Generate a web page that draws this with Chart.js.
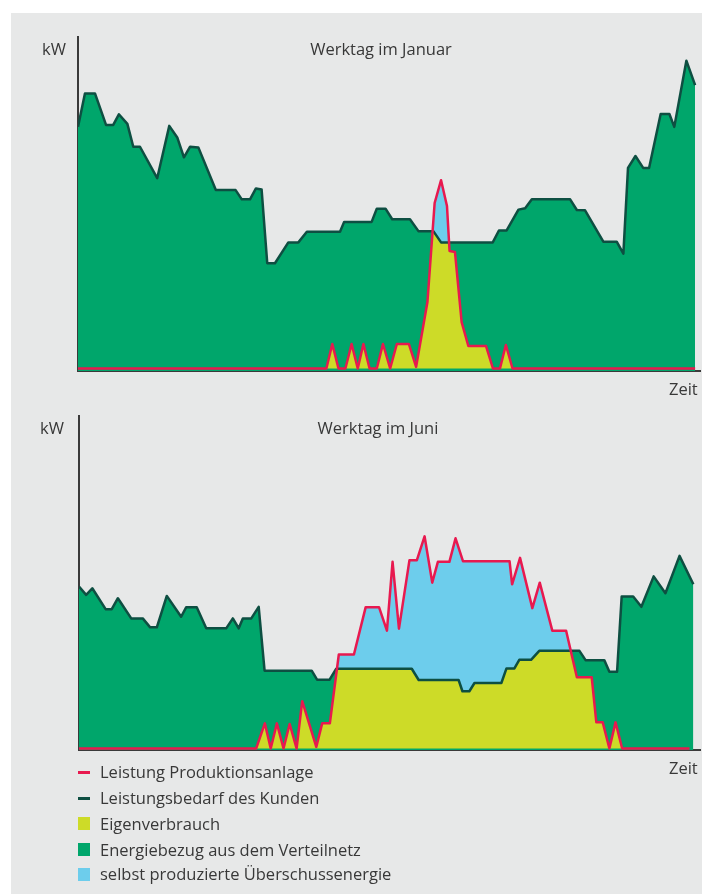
<!DOCTYPE html>
<html>
<head>
<meta charset="utf-8">
<script src="https://cdn.jsdelivr.net/npm/chart.js@4.4.1/dist/chart.umd.min.js"></script>
<style>
    body { margin: 0; background: #ffffff; }
    #page {
        position: absolute; left: 11px; top: 13px; width: 691px; height: 881px;
        background: #e7e8e8;
    }
    #wrap { position: absolute; left: 0; top: 0; width: 702px; height: 894px; overflow: hidden; }
    canvas { position: absolute; left: 0; }
    .txt {
        position: absolute; font-family: "Open Sans", sans-serif; font-size: 16.5px;
        line-height: 20px; color: #383838; white-space: nowrap;
    }
    .mark { position: absolute; left: 78px; width: 12px; }
</style>
</head>
<body>
<div id="page"></div>
<div id="wrap">
    <canvas id="janChart" width="702" height="400" style="top:0px"></canvas>
    <canvas id="junChart" width="702" height="380" style="top:400px"></canvas>

    <div class="txt" style="left:42px; top:39px">kW</div>
    <div class="txt" style="left:381px; top:39px; transform:translateX(-50%)">Werktag im Januar</div>
    <div class="txt" style="left:669px; top:379px">Zeit</div>

    <div class="txt" style="left:40px; top:418px">kW</div>
    <div class="txt" style="left:378px; top:418px; transform:translateX(-50%)">Werktag im Juni</div>
    <div class="txt" style="left:669px; top:758px">Zeit</div>

    <div id="legend"></div>
</div>

<script>
// colours
const RED       = "#e8194f";
const DARKGREEN = "#0e4f42";
const GREEN     = "#00a66b";
const YELLOW    = "#cddb28";
const BLUE      = "#6dcdec";

// Werktag im Januar  (time in h, power in kW)
const janDemandTime = [0, 0.27, 0.66, 1.09, 1.37, 1.59, 1.92, 2.15, 2.41, 3.08, 3.55, 3.86, 4.12, 4.36, 4.68,
    5.36, 6.13, 6.37, 6.69, 6.92, 7.14, 7.36, 7.66, 8.18, 8.57, 8.90, 10.19, 10.35, 11.42, 11.62, 11.96,
    12.22, 12.91, 13.24, 13.82, 14.12, 16.13, 16.37, 16.67, 17.13, 17.39, 17.65, 19.14, 19.40, 19.72,
    20.43, 20.95, 21.21, 21.39, 21.68, 21.98, 22.21, 22.66, 23.00, 23.19, 23.66, 24.0];
const janDemandKw = [73.0, 83.1, 83.1, 73.6, 73.6, 76.8, 73.9, 67.0, 67.0, 57.5, 73.3, 69.8, 63.8, 67.0, 66.8,
    53.9, 53.9, 51.1, 51.1, 54.4, 54.1, 31.8, 31.8, 38.1, 38.1, 41.3, 41.3, 44.3, 44.3, 48.3, 48.3,
    45.1, 45.1, 41.5, 41.5, 38.1, 38.1, 41.7, 41.7, 48.0, 48.4, 51.1, 51.1, 47.9, 47.8,
    38.3, 38.3, 34.7, 60.6, 64.2, 60.6, 60.6, 76.9, 76.9, 73.0, 93.0, 85.6];
const janProdTime = [0, 9.66, 9.89, 10.13, 10.40, 10.64, 10.88, 11.10, 11.34, 11.62, 11.86, 12.14, 12.40,
    12.87, 13.15, 13.59, 13.87, 14.12, 14.35, 14.45, 14.66, 14.92, 15.18, 15.87, 16.14, 16.41, 16.64,
    16.90, 24.0];
const janProdKw = [0, 0, 7.4, 0, 0, 7.4, 0, 7.4, 0, 0, 7.4, 0, 7.4,
    7.4, 0.5, 20.1, 50.0, 56.9, 49.1, 35.5, 35.2, 14.0, 6.8, 6.8, 0, 0, 7.1,
    0, 0];

// Werktag im Juni
const junDemandTime = [0, 0.28, 0.52, 1.04, 1.28, 1.52, 2.04, 2.49, 2.78, 3.04, 3.43, 3.99, 4.19, 4.60,
    4.97, 5.75, 6.01, 6.24, 6.40, 6.73, 7.02, 7.25, 9.09, 9.30, 9.79, 10.05, 13.00, 13.27, 14.83, 14.98,
    15.25, 15.45, 16.50, 16.70, 17.01, 17.20, 17.66, 17.98, 19.55, 19.79, 20.52, 20.72, 21.02, 21.20,
    21.65, 21.97, 22.45, 22.91, 23.46, 24.0];
const junDemandKw = [48.9, 46.4, 48.4, 42.1, 42.1, 45.4, 39.3, 39.3, 36.6, 36.6, 46.1, 39.8, 42.7, 42.7,
    36.3, 36.3, 39.3, 36.3, 39.3, 39.3, 42.8, 23.5, 23.5, 20.8, 20.8, 24.1, 24.1, 20.7, 20.7, 17.3,
    17.3, 19.8, 19.8, 24.2, 24.2, 26.8, 26.8, 29.5, 29.5, 26.7, 26.7, 23.2, 23.2, 45.9,
    45.9, 42.8, 52.0, 46.9, 58.2, 49.6];
const junProdTime = [0, 6.92, 7.26, 7.49, 7.73, 7.99, 8.23, 8.50, 8.72, 9.27, 9.50, 9.80, 10.15, 10.74,
    11.20, 11.72, 12.03, 12.25, 12.50, 12.91, 13.20, 13.50, 13.80, 14.02, 14.47, 14.71, 15.00, 16.82,
    16.92, 17.23, 17.71, 18.00, 18.49, 19.03, 19.45, 20.03, 20.21, 20.46, 20.72, 20.96, 21.22, 23.85];
const junProdKw = [0, 0, 7.6, 0, 7.6, 0, 7.4, 0, 14.3, 0.5, 7.6, 7.6, 28.4, 28.4,
    42.7, 42.7, 35.6, 56.4, 36.2, 56.9, 56.9, 64.1, 50.1, 56.4, 56.4, 63.5, 56.6, 56.6,
    49.6, 57.6, 42.4, 50.1, 35.6, 35.6, 21.5, 21.5, 7.9, 7.9, 0, 7.9, 0, 0];

const legendLabels = ["Leistung Produktionsanlage", "Leistungsbedarf des Kunden", "Eigenverbrauch",
    "Energiebezug aus dem Verteilnetz", "selbst produzierte Überschussenergie"];

function toPoints(times, values)
{
    let pts = [];
    for (let i = 0; i < times.length; i++)
    {
        pts.push({x: times[i], y: values[i]});
    }
    return pts;
}

function makeChart(id, demandTime, demandKw, prodTime, prodKw, box)
{
    const demand = toPoints(demandTime, demandKw);
    const prod   = toPoints(prodTime, prodKw);
    const ctx = document.getElementById(id).getContext('2d');
    return new Chart(ctx, {
        type: 'line',
        data: {
            datasets: [
                // 0: production line (on top)
                { data: prod, borderColor: RED, borderWidth: 2.5, fill: false },
                // 1: demand line
                { data: demand, borderColor: DARKGREEN, borderWidth: 2.5, fill: false },
                // 2: surplus, production above demand
                { data: prod, borderWidth: 0, borderColor: 'rgba(0,0,0,0)',
                  fill: { target: 1, above: BLUE, below: 'rgba(0,0,0,0)' } },
                // 3: self consumption
                { data: prod, borderWidth: 0, borderColor: 'rgba(0,0,0,0)', backgroundColor: YELLOW, fill: 'origin' },
                // 4: grid supply
                { data: demand, borderWidth: 0, borderColor: 'rgba(0,0,0,0)', backgroundColor: GREEN, fill: 'start' }
            ]
        },
        options: {
            responsive: false,
            animation: false,
            devicePixelRatio: 1,
            elements: { point: { radius: 0 }, line: { tension: 0, borderJoinStyle: 'round' } },
            layout: { padding: box.padding },
            plugins: { legend: { display: false }, tooltip: { enabled: false } },
            scales: {
                x: {
                    type: 'linear', min: 0, max: box.xMax,
                    ticks: { display: false },
                    grid: { display: false, drawTicks: false },
                    border: { display: true, color: '#3a3a3a', width: 2 }
                },
                y: {
                    min: box.yMin, max: box.yMax,
                    ticks: { display: false },
                    grid: { display: false, drawTicks: false },
                    border: { display: true, color: '#3a3a3a', width: 2 }
                }
            }
        }
    });
}

makeChart("janChart", janDemandTime, janDemandKw, janProdTime, janProdKw,
    { padding: {left: 78, top: 37, right: 2, bottom: 29}, xMax: 24.19, yMin: -0.75, yMax: 100.15 });
makeChart("junChart", junDemandTime, junDemandKw, junProdTime, junProdKw,
    { padding: {left: 79, top: 16, right: 2, bottom: 30}, xMax: 24.26, yMin: -0.45, yMax: 100.45 });

// legend below the charts
function showLegend()
{
    const legend   = document.getElementById("legend");
    const rowY     = [772, 798, 823.5, 849.5, 874];
    const markers  = ["line", "line", "box", "box", "box"];
    const colours  = [RED, DARKGREEN, YELLOW, GREEN, BLUE];
    let html = "";
    for (let i = 0; i < legendLabels.length; i++)
    {
        if (markers[i] == "line")
            html += `<div class="mark" style="top:${rowY[i] - 1.5}px; height:3px; background:${colours[i]}"></div>`;
        else
            html += `<div class="mark" style="top:${rowY[i] - 6.5}px; height:13px; background:${colours[i]}"></div>`;
        html += `<div class="txt" style="left:100px; top:${rowY[i] - 10}px">${legendLabels[i]}</div>`;
    }
    legend.innerHTML = html;
}
showLegend();
</script>
</body>
</html>
